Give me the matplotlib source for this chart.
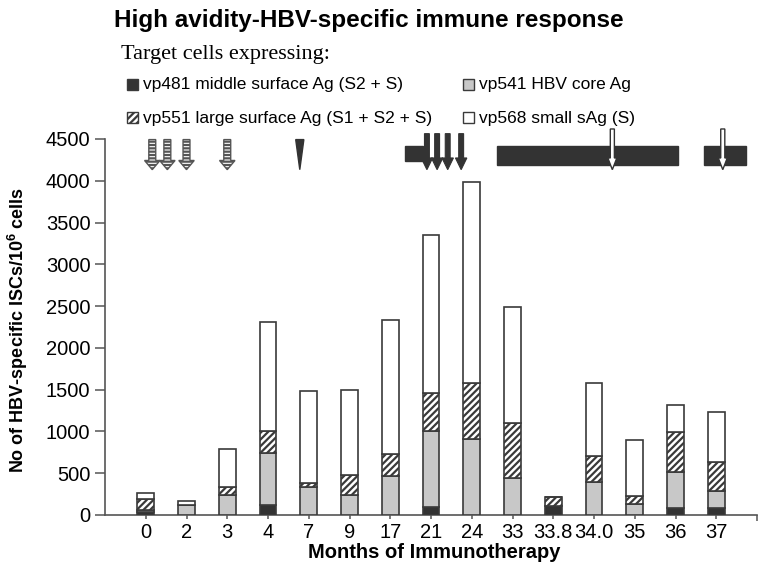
import numpy as np
import matplotlib
matplotlib.use("Agg")
import matplotlib.pyplot as plt
from matplotlib.patches import Rectangle, FancyArrow, Polygon

# Data
months = ['0', '2', '3', '4', '7', '9', '17', '21', '24', '33', '33.8', '34.0', '35', '36', '37']
vp481 = [30, 0, 0, 120, 0, 0, 0, 100, 0, 0, 110, 0, 0, 80, 80]               # middle surface Ag
vp541 = [30, 120, 240, 620, 330, 240, 470, 900, 910, 440, 0, 390, 130, 440, 210]  # core Ag
vp551 = [130, 0, 100, 270, 50, 235, 265, 455, 670, 665, 100, 320, 100, 470, 340]  # large surface Ag
vp568 = [70, 50, 450, 1300, 1110, 1025, 1595, 1900, 2410, 1390, 0, 870, 670, 330, 605]  # small sAg

labels = ['vp481 middle surface Ag (S2 + S)', 'vp541 HBV core Ag',
          'vp551 large surface Ag (S1 + S2 + S)', 'vp568 small sAg (S)']

# treatment markers above the bars (x in category units)
striped_arrows = [0.16, 0.53, 1.0, 2.0]
wedge_x = 3.78
dark_arrows = [6.90, 7.15, 7.41, 7.74]
dark_blocks = [(6.35, 6.80), (8.62, 13.05), (13.70, 14.73)]
white_arrows = [11.45, 14.16]

plt.rcParams['font.family'] = ['Liberation Sans', 'DejaVu Sans']
plt.rcParams['hatch.linewidth'] = 1.6

W, H = 768, 578
fig = plt.figure(figsize=(W / 100, H / 100), dpi=100)
ax = fig.add_axes([105 / W, 1 - 515 / H, (757 - 105) / W, (515 - 139) / H])

dark = '#333333'
grey = '#c8c8c8'
edge = '#3a3a3a'
x = np.arange(len(months))
bw = 0.41

b1 = np.array(vp481)
b2 = b1 + np.array(vp541)
b3 = b2 + np.array(vp551)
kw = dict(width=bw, edgecolor=edge, linewidth=1.2, zorder=3)
ax.bar(x, vp481, color=dark, **kw)
ax.bar(x, vp541, bottom=b1, color=grey, **kw)
ax.bar(x, vp551, bottom=b2, color='white', hatch='/////', **kw)
ax.bar(x, vp568, bottom=b3, color='white', **kw)

# top annotations
for xs in striped_arrows:
    ax.add_patch(FancyArrow(xs, 4493, 0, -360, width=0.17, head_width=0.38,
                            head_length=110, length_includes_head=True,
                            facecolor='white', edgecolor='#555555', hatch='-----',
                            linewidth=1.0, clip_on=False, zorder=4))
ax.add_patch(Polygon([[wedge_x - 0.1, 4493], [wedge_x + 0.1, 4493], [wedge_x, 4133]],
                     closed=True, facecolor=dark, edgecolor=dark, clip_on=False, zorder=4))
for x0, x1 in dark_blocks:
    y0, y1 = (4232, 4412) if x1 < 7 else (4193, 4412)
    ax.add_patch(Rectangle((x0, y0), x1 - x0, y1 - y0, facecolor=dark,
                           edgecolor=dark, clip_on=False, zorder=4))
for xs in dark_arrows:
    ax.add_patch(FancyArrow(xs, 4564, 0, -431, width=0.12, head_width=0.28,
                            head_length=140, length_includes_head=True,
                            facecolor=dark, edgecolor=dark, linewidth=0.8,
                            clip_on=False, zorder=5))
for xs in white_arrows:
    ax.add_patch(FancyArrow(xs, 4620, 0, -487, width=0.1, head_width=0.22,
                            head_length=140, length_includes_head=True,
                            facecolor='white', edgecolor=dark, linewidth=1.0,
                            clip_on=False, zorder=5))

ax.set_xlim(-1, 15)
ax.set_ylim(0, 4500)
ax.set_xticks(x)
ax.set_xticklabels(months)
ax.set_xticks([15], minor=True)
ax.set_yticks(np.arange(0, 4501, 500))
ax.tick_params(axis='both', labelsize=14.5, width=1.1, color='#555555')
ax.tick_params(axis='x', length=3, pad=3)
ax.tick_params(axis='y', length=7, pad=3.5)
ax.tick_params(axis='x', which='minor', length=4, width=1.1, color='#555555')
for s in ['top', 'right']:
    ax.spines[s].set_visible(False)
for s in ['left', 'bottom']:
    ax.spines[s].set_color('#555555')
    ax.spines[s].set_linewidth(1.2)

# titles and axis labels
fig.text(369 / W, 1 - 27 / H, 'High avidity-HBV-specific immune response',
         ha='center', va='baseline', fontsize=17.5, fontweight='bold')
fig.text(121 / W, 1 - 55 / H, 'Target cells expressing:', ha='left', va='center',
         fontsize=16, family='Liberation Serif')
fig.text(18 / W, 1 - 330 / H, r'No of HBV-specific ISCs/10$^{\mathregular{6}}$ cells',
         rotation=90, ha='center', va='center', fontsize=13, fontweight='bold')
fig.text(434 / W, 1 - 553 / H, 'Months of Immunotherapy', ha='center', va='center',
         fontsize=14.5, fontweight='bold')

# legend drawn by hand: two columns, two rows
pos = [(127, 85), (463, 85), (127, 118), (463, 118)]
styles = [dict(facecolor=dark), dict(facecolor=grey),
          dict(facecolor='white', hatch='/////'), dict(facecolor='white')]
for (px, py), lab, st in zip(pos, labels, styles):
    fig.patches.append(Rectangle((px / W, 1 - (py + 5) / H), 11 / W, 11 / H,
                                 transform=fig.transFigure, edgecolor=edge,
                                 linewidth=1.0, **st))
    fig.text((px + 16) / W, 1 - py / H, lab, ha='left', va='center', fontsize=12.5)

fig.savefig('out.png', dpi=100)
